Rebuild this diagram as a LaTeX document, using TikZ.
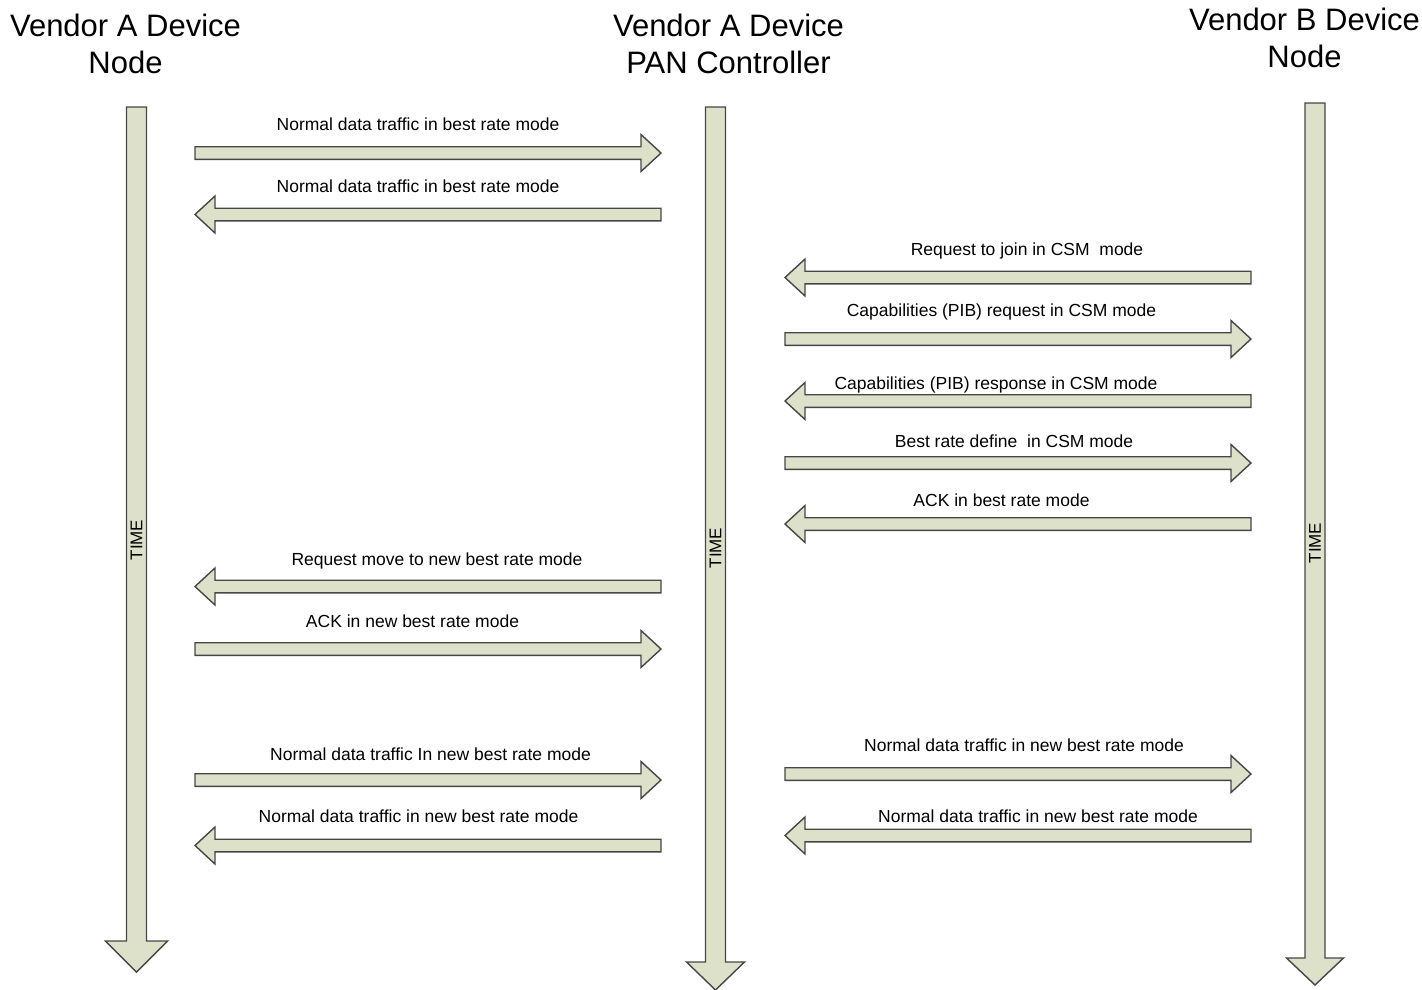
\documentclass[tikz,border=0pt]{standalone}
\usepackage{fontspec}
\setmainfont{Liberation Sans}
\definecolor{arrfill}{RGB}{221,225,202}
\definecolor{arrline}{RGB}{70,70,70}
\newcommand\vtime[5]{% cx, ytop, yhead, ytip, halfhead
  \draw[blockarrow] (#1-10,#2) -- (#1+10,#2) -- (#1+10,#3) -- (#1+#5,#3) -- (#1,#4) -- (#1-#5,#3) -- (#1-10,#3) -- cycle;}
\newcommand\harR[3]{% x tail, x tip, y
  \draw[blockarrow] (#1,#3-6.3) -- (#2-20,#3-6.3) -- (#2-20,#3-18.5) -- (#2,#3) -- (#2-20,#3+18.5) -- (#2-20,#3+6.3) -- (#1,#3+6.3) -- cycle;}
\newcommand\harL[3]{% x tip, x tail, y
  \draw[blockarrow] (#2,#3-6.3) -- (#1+20,#3-6.3) -- (#1+20,#3-18.5) -- (#1,#3) -- (#1+20,#3+18.5) -- (#1+20,#3+6.3) -- (#2,#3+6.3) -- cycle;}
\begin{document}
\begin{tikzpicture}[x=1pt,y=-1pt,
  blockarrow/.style={draw=arrline,fill=arrfill,line width=1.4pt,line join=miter},
  head/.style={anchor=base,align=center,font=\fontsize{31}{37}\selectfont,inner sep=0pt},
  lbl/.style={anchor=base,font=\fontsize{17.5}{20}\selectfont,inner sep=0pt},
  timelbl/.style={rotate=90,anchor=center,font=\fontsize{17}{20}\selectfont,inner sep=0pt}]
\useasboundingbox (0,0) rectangle (1422,989);
% lifelines
\vtime{136.5}{107}{941}{972}{31}
\vtime{715.5}{107}{962}{990}{29}
\vtime{1315}{103}{958}{985}{28.5}
\node[timelbl] (t1) at (136.5,540) {TIME};
\node[timelbl] (t2) at (715.5,548) {TIME};
\node[timelbl] (t3) at (1315,543) {TIME};
% headers
\node[head] (h1) at (125.5,73.5) {Vendor A Device\\Node};
\node[head] (h2) at (728.5,73.5) {Vendor A Device\\PAN Controller};
\node[head] (h3) at (1304.5,67.5) {Vendor B Device\\Node};
% messages
\harR{195}{661}{153}
\node[lbl] (l1) at (418,130) {Normal data traffic in best rate mode};
\harL{195}{661}{214.5}
\node[lbl] (l2) at (418,192) {Normal data traffic in best rate mode};
\harL{785}{1251}{277.5}
\node[lbl] (l3) at (1027,255) {Request to join in CSM\ \ mode};
\harR{785}{1251}{339}
\node[lbl] (l4) at (1001.5,316) {Capabilities (PIB) request in CSM mode};
\harL{785}{1251}{401}
\node[lbl] (l5) at (996,389) {Capabilities (PIB) response in CSM mode};
\harR{785}{1251}{463}
\node[lbl] (l6) at (1014,447) {Best rate define\ \ in CSM mode};
\harL{785}{1251}{524}
\node[lbl] (l7) at (1001.5,506) {ACK in best rate mode};
\harL{195}{661}{586.5}
\node[lbl] (l8) at (437,565) {Request move to new best rate mode};
\harR{195}{661}{649}
\node[lbl] (l9) at (412.5,627) {ACK in new best rate mode};
\harR{195}{661}{780}
\node[lbl] (l10) at (430.5,760) {Normal data traffic In new best rate mode};
\harL{195}{661}{845.5}
\node[lbl] (l11) at (418.5,822) {Normal data traffic in new best rate mode};
\harR{785}{1251}{774}
\node[lbl] (l12) at (1024,751) {Normal data traffic in new best rate mode};
\harL{785}{1251}{835.5}
\node[lbl] (l13) at (1038,822) {Normal data traffic in new best rate mode};
\end{tikzpicture}
\end{document}
